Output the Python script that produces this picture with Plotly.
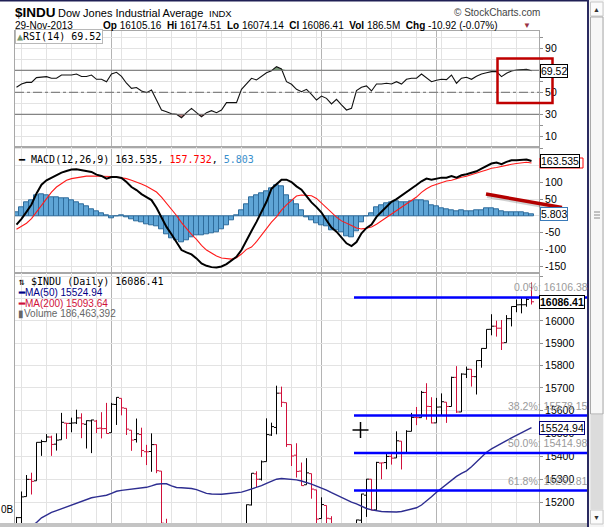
import math
import datetime as _dt
import plotly.graph_objects as go

W, H = 604, 527

# ---------------- data ----------------
dates = [
 "2013-07-05","2013-07-08","2013-07-09","2013-07-10","2013-07-11","2013-07-12","2013-07-15","2013-07-16","2013-07-17","2013-07-18",
 "2013-07-19","2013-07-22","2013-07-23","2013-07-24","2013-07-25","2013-07-26","2013-07-29","2013-07-30","2013-07-31",
 "2013-08-01","2013-08-02","2013-08-05","2013-08-06","2013-08-07","2013-08-08","2013-08-09","2013-08-12","2013-08-13","2013-08-14",
 "2013-08-15","2013-08-16","2013-08-19","2013-08-20","2013-08-21","2013-08-22","2013-08-23","2013-08-26","2013-08-27","2013-08-28",
 "2013-08-29","2013-08-30",
 "2013-09-03","2013-09-04","2013-09-05","2013-09-06","2013-09-09","2013-09-10","2013-09-11","2013-09-12","2013-09-13","2013-09-16",
 "2013-09-17","2013-09-18","2013-09-19","2013-09-20","2013-09-23","2013-09-24","2013-09-25","2013-09-26","2013-09-27","2013-09-30",
 "2013-10-01","2013-10-02","2013-10-03","2013-10-04","2013-10-07","2013-10-08","2013-10-09","2013-10-10","2013-10-11","2013-10-14",
 "2013-10-15","2013-10-16","2013-10-17","2013-10-18","2013-10-21","2013-10-22","2013-10-23","2013-10-24","2013-10-25","2013-10-28",
 "2013-10-29","2013-10-30","2013-10-31",
 "2013-11-01","2013-11-04","2013-11-05","2013-11-06","2013-11-07","2013-11-08","2013-11-11","2013-11-12","2013-11-13","2013-11-14",
 "2013-11-15","2013-11-18","2013-11-19","2013-11-20","2013-11-21","2013-11-22","2013-11-25","2013-11-26","2013-11-27","2013-11-29",
]

prev_close_before_first = 14988.55

opens = [14994,15136,15226,15300,15294,15461,15464,15484,15453,15472,15545,15544,15546,15568,15540,15555,15554,15523,15521,
 15503,15627,15654,15610,15514,15473,15495,15420,15421,15451,15336,15111,15081,15011,15003,14898,14964,15011,14943,14776,14824,14842,
 14810,14834,14930,14938,14923,15063,15190,15324,15301,15377,15493,15526,15677,15635,15451,15405,15336,15277,15325,15255,
 15132,15188,15131,14994,15070,14935,14776,14804,15125,15232,15301,15169,15371,15373,15400,15393,15466,15413,15509,15570,15569,15680,15618,
 15546,15616,15637,15618,15747,15594,15761,15783,15750,15822,15876,15962,15976,15967,15902,16010,16065,16073,16073,16105.16]

highs = [15139,15248,15319,15329,15461,15472,15497,15490,15500,15590,15545,15569,15604,15588,15557,15560,15559,15593,15634,
 15634,15659,15654,15610,15514,15565,15525,15450,15500,15452,15336,15131,15111,15078,15058,14981,15025,15052,14943,14870,14934,14880,
 14956,14944,14967,15009,15068,15192,15327,15335,15382,15566,15547,15710,15706,15635,15451,15457,15373,15392,15325,15255,
 15223,15188,15142,15073,15070,14967,14860,15127,15238,15302,15301,15376,15372,15413,15418,15509,15466,15514,15590,15616,15687,15721,15659,
 15656,15676,15637,15750,15797,15765,15795,15783,15822,15877,15962,16030,16001,16004,16026,16065,16097,16105,16107,16174.51]

lows = [14994,15105,15226,15235,15294,15402,15464,15402,15425,15472,15476,15505,15541,15479,15434,15414,15501,15478,15499,
 15503,15537,15579,15493,15424,15460,15397,15362,15333,15327,15090,15076,15005,14992,14890,14898,14963,14943,14760,14760,14818,14777,
 14781,14797,14925,14808,14923,15063,15188,15267,15295,15377,15489,15496,15616,15441,15358,15308,15273,15277,15217,15054,
 15132,15042,14951,14972,14926,14774,14719,14804,15064,15139,15168,15169,15301,15344,15364,15393,15343,15413,15509,15536,15569,15560,15544,
 15546,15580,15546,15618,15590,15594,15744,15706,15671,15790,15876,15935,15929,15869,15902,15975,16039,16034,16064,16074.14]

closes = [15135.84,15224.69,15300.34,15291.66,15460.92,15464.30,15484.26,15451.85,15470.52,15548.54,15543.74,15545.55,15567.74,15542.24,15555.61,15558.83,15521.97,15520.59,15499.54,
 15628.02,15658.36,15612.13,15518.74,15470.67,15498.32,15425.51,15419.68,15451.01,15337.66,15112.19,15081.47,15010.74,15002.99,14897.55,14963.74,15010.51,14946.46,14776.13,14824.51,14840.95,14810.31,
 14833.96,14930.87,14937.48,14922.50,15063.12,15191.06,15326.60,15300.64,15376.06,15494.78,15529.73,15676.94,15636.55,15451.09,15401.38,15334.59,15273.26,15328.30,15258.24,15129.67,
 15191.70,15133.14,14996.48,15072.58,14936.24,14776.53,14802.98,15126.07,15237.11,15301.26,15168.01,15373.83,15371.65,15399.65,15392.20,15467.66,15413.33,15509.21,15570.28,15568.93,15680.35,15618.76,15545.75,
 15615.55,15639.12,15618.22,15746.88,15593.98,15761.78,15783.10,15750.67,15821.63,15876.22,15961.70,15976.02,15967.03,15900.82,16009.99,16064.77,16072.54,16072.80,16097.33,16086.41]

ma50 = [15070,15078,15086,15100,15115,15135,15148,15158,15166,15174,15182,15190,15200,15208,15216,15221,15225,15228,15232,15240,
 15249,15253,15255,15257,15259,15262,15266,15272,15279,15281,15281,15272,15265,15264,15264,15261,15256,15248,15240,15237,
 15236,15236,15238,15240,15242,15245,15252,15258,15264,15273,15283,15293,15301,15304,15303,15300,15298,15293,15287,15280,
 15271,15264,15254,15243,15232,15221,15211,15202,15195,15185,15175,15169,15165,15162,15161,15160,15160,15162,15167,15172,
 15178,15190,15206,15225,15245,15263,15280,15297,15313,15326,15337,15355,15375,15395,15418,15432,15445,15457,15468,15480,
 15492,15503,15514,15524.94]

rsi = [54.5,57.5,59,59,63.3,64,64.2,62.7,62.8,65.7,
 65.7,65.7,66.6,64.4,64.4,65.7,61.8,61.8,59.6,66.6,
 68.2,64.4,58.2,53.6,54.3,51.2,49.7,52.1,43,33.9,
 32.4,30.5,30,26.9,31.5,35.4,31.5,27.8,31.5,33.3,
 31.5,33.9,40.6,40.6,40.6,52.7,58.2,62.7,61.2,64.2,
 67.8,69.6,73.3,71.2,59.6,57.3,52.7,50.5,52.7,48.2,
 43,46.6,44.5,39.4,43.6,38.5,33.9,35.4,51.5,54.5,
 55.8,51.2,57.5,57.5,58.2,57.5,59.6,57.5,61.8,62.8,
 62.8,66.6,62.8,59.6,61,61.8,61.5,65.7,58.2,62.8,
 63.7,61.8,64.5,66.6,67.8,68.8,68.8,64.2,67.3,69.3,
 70.3,70.9,70.9,69.52]

macd = [-26,-9,12,34,67,93,106,114,123,129,
 134,138,139,136,135,131,123,119,111,116,
 116,113,101,86,77,65,56,47,24,-6,
 -33,-55,-77,-102,-109,-115,-127,-142,-149,-153,
 -154,-151,-144,-132,-122,-102,-72,-45,-18,12,
 42,81,96,108,108,101,88,78,59,40,
 26,10,-13,-35,-47,-64,-82,-90,-78,-52,
 -36,-26,-3,12,27,42,50,60,72,82,
 92,103,111,108,111,114,114,119,114,121,
 124,129,133,141,149,156,159,154,161,166,
 166,168,168,163.535]

signal = [-40,-32,-22,-8,12,32,52,71,86,96,
 106,111,114,117,118.5,119,119,118,118,117.5,
 116,114.5,111,106,101,95,88,80,71,56,
 38,21,1,-20,-38,-55,-70,-88,-102,-112,
 -120,-126,-128,-129,-125,-114,-100,-93,-77,-57,
 -38,-19,-3,17,33,47,59,62,62,60,
 52,38,22,8,-4,-15,-23,-29,-36,-39,
 -37,-33,-25,-15,-5,4,14,24,34,45,
 56,70,81,89,94,99,104,106,111,115,
 118,122,126,132,137,142,144,148,152,154,
 156,158,160,157.732]

hist = [12,27,40,47,60,64,62,54,54,52,
 52,45,40,34,29,20,14,7,1,-6,
 -1,2,-4,-10,-16,-20,-25,-28,-31,-40,
 -55,-67,-74,-79,-72,-65,-57,-58,-55,-52,
 -49,-40,-28,-12,2,17,34,54,60,67,
 73,81,91,88,62,47,34,17,-3,-13,
 -23,-27,-30,-43,-43,-49,-60,-63,-46,-18,
 -1,7,25,32,37,40,42,41,41,44,
 47,47,44,32,29,24,19,17,15,16,
 15,15,17,17,22,24,19,14,12,12,
 12,11,9,5.803]

fib_levels = [16106.38, 15578.15, 15414.98, 15251.81]
fib_labels = ["0.0%", "38.2%", "50.0%", "61.8%"]

rsi_ticks = [10, 20, 30, 40, 50, 60, 70, 80, 90, 100]
rsi_ticktext = ["10", "", "30", "", "50", "", "", "", "90", ""]
macd_ticks = [-150, -100, -50, 0, 50, 100, 150, 200]
macd_ticktext = ["-150", "-100", "-50", "", "50", "100", "", ""]
price_ticks = [15200, 15300, 15400, 15500, 15600, 15700, 15800, 15900, 16000, 16100, 16200]
price_ticktext = ["15200", "15300", "15400", "15500", "15600", "15700", "15800", "15900", "16000", "", ""]

# ---------------- helpers ----------------
SANS = "Liberation Sans, Arial, sans-serif"
MONO = "DejaVu Sans Mono, monospace"

def PX(v):
    return v / W

def PY(v):
    return 1 - v / H

x = list(range(len(dates)))
_d = [_dt.date.fromisoformat(s) for s in dates]
week_idx = [i for i in range(1, len(_d)) if _d[i].weekday() < _d[i-1].weekday()]
month_idx = [i for i in range(1, len(_d)) if _d[i].month != _d[i-1].month]

LEFT, RIGHT = 15, 539
XD = [PX(LEFT), PX(RIGHT)]
XR = [-0.3, 104.5]

RSI_DOM = [PY(147.3), PY(31)]
MACD_DOM = [PY(273), PY(147.3)]
PRICE_DOM = [PY(523), PY(273)]

fig = go.Figure()

# ---------------- RSI ----------------
fig.add_trace(go.Scatter(x=x, y=[70]*len(x), mode="lines", line=dict(width=0), xaxis="x", yaxis="y", hoverinfo="skip"))
fig.add_trace(go.Scatter(x=x, y=[max(v, 70) for v in rsi], mode="lines", line=dict(width=0), fill="tonexty",
                         fillcolor="#7da07d", xaxis="x", yaxis="y", hoverinfo="skip"))
fig.add_trace(go.Scatter(x=x, y=[30]*len(x), mode="lines", line=dict(width=0), xaxis="x", yaxis="y", hoverinfo="skip"))
fig.add_trace(go.Scatter(x=x, y=[min(v, 30) for v in rsi], mode="lines", line=dict(width=0), fill="tonexty",
                         fillcolor="#bf8080", xaxis="x", yaxis="y", hoverinfo="skip"))
fig.add_trace(go.Scatter(x=x, y=rsi, mode="lines", line=dict(color="#111111", width=1.1), xaxis="x", yaxis="y"))

# ---------------- MACD ----------------
fig.add_trace(go.Bar(x=x, y=hist, width=1.0, marker=dict(color="#5fa5d6", line=dict(color="#2e6c9c", width=1)),
                     xaxis="x2", yaxis="y2"))
fig.add_trace(go.Scatter(x=x, y=signal, mode="lines", line=dict(color="#ff1a1a", width=1.1), xaxis="x2", yaxis="y2"))
fig.add_trace(go.Scatter(x=x, y=macd, mode="lines", line=dict(color="#000000", width=2), xaxis="x2", yaxis="y2"))

# ---------------- Price ----------------
up_i, dn_i = [], []
for i, c in enumerate(closes):
    pc = prev_close_before_first if i == 0 else closes[i-1]
    (up_i if c >= pc else dn_i).append(i)

for idx, col in ((up_i, "#000000"), (dn_i, "#d0103a")):
    fig.add_trace(go.Ohlc(x=idx, open=[opens[i] for i in idx], high=[highs[i] for i in idx],
                          low=[lows[i] for i in idx], close=[closes[i] for i in idx],
                          increasing=dict(line=dict(color=col, width=1)),
                          decreasing=dict(line=dict(color=col, width=1)),
                          tickwidth=0.5, xaxis="x3", yaxis="y3", hoverinfo="skip"))

fig.add_trace(go.Scatter(x=x, y=ma50, mode="lines", line=dict(color="#2d2d90", width=1.4), xaxis="x3", yaxis="y3"))

# ---------------- axes ----------------
xcommon = dict(domain=XD, range=XR, showticklabels=False, tickvals=week_idx, ticks="",
               showgrid=True, gridcolor="#e3e3e3", gridwidth=1, zeroline=False,
               showline=True, mirror=True, linecolor="#a8a8a8", linewidth=1, fixedrange=True)
ycommon = dict(side="right", ticks="outside", ticklen=3, tickcolor="#909090",
               tickfont=dict(family=SANS, size=10.5, color="#000000"),
               showgrid=True, gridcolor="#e3e3e3", gridwidth=1, zeroline=False,
               showline=True, mirror=True, linecolor="#a8a8a8", linewidth=1, fixedrange=True)

fig.update_layout(
    xaxis=dict(**xcommon, anchor="y"),
    xaxis2=dict(**xcommon, anchor="y2"),
    xaxis3=dict(**xcommon, anchor="y3", rangeslider=dict(visible=False)),
    yaxis=dict(**ycommon, domain=RSI_DOM, range=[0, 105.7], tickvals=rsi_ticks, ticktext=rsi_ticktext, anchor="x"),
    yaxis2=dict(**ycommon, domain=MACD_DOM, range=[-170.5, 204.5], tickvals=macd_ticks, ticktext=macd_ticktext, anchor="x2"),
    yaxis3=dict(**ycommon, domain=PRICE_DOM, type="log",
                range=[math.log10(15113), math.log10(16217.6)],
                tickvals=price_ticks, ticktext=price_ticktext, anchor="x3"),
)

shapes = []
for xr, yr in (("x", "y"), ("x2", "y2"), ("x3", "y3")):
    for m in month_idx:
        shapes.append(dict(type="line", xref=xr, yref=yr + " domain", x0=m, x1=m, y0=0, y1=1,
                           line=dict(color="#b4b4b4", width=1), layer="below"))
for lv, dash in ((70, "solid"), (30, "solid"), (50, "dashdot")):
    shapes.append(dict(type="line", xref="x domain", yref="y", x0=0, x1=1, y0=lv, y1=lv,
                       line=dict(color="#6a6a6a", width=1, dash=dash), layer="above"))
for lv in fib_levels:
    shapes.append(dict(type="line", xref="paper", yref="y3", x0=PX(354), x1=PX(588), y0=lv, y1=lv,
                       line=dict(color="#0000ff", width=2.5)))
# red highlight box (RSI) and red arrow (MACD)
shapes.append(dict(type="rect", xref="paper", yref="paper", x0=PX(497.5), x1=PX(552.5), y0=PY(103), y1=PY(58.5),
                   line=dict(color="#c00000", width=2.5)))
shapes.append(dict(type="line", xref="paper", yref="paper", x0=PX(487), y0=PY(196.5), x1=PX(563), y1=PY(210),
                   line=dict(color="rgba(0,0,0,0.18)", width=3)))
shapes.append(dict(type="line", xref="paper", yref="paper", x0=PX(486), y0=PY(194), x1=PX(562), y1=PY(207.5),
                   line=dict(color="#b40000", width=3.5)))
# cross cursor
shapes.append(dict(type="line", xref="paper", yref="paper", x0=PX(352.5), x1=PX(368.5), y0=PY(430), y1=PY(430),
                   line=dict(color="#000000", width=1.5)))
shapes.append(dict(type="line", xref="paper", yref="paper", x0=PX(360.5), x1=PX(360.5), y0=PY(422), y1=PY(438),
                   line=dict(color="#000000", width=1.5)))
# signal value box (hidden behind MACD value box; only its red edge shows)
shapes.append(dict(type="rect", xref="paper", yref="paper", x0=PX(540), x1=PX(583), y0=PY(168), y1=PY(158),
                   line=dict(color="#ff0000", width=1), fillcolor="#ffffff"))

# window chrome: top line, scrollbar, bottom band
shapes.append(dict(type="rect", xref="paper", yref="paper", x0=0, x1=1, y0=PY(1.5), y1=1,
                   line=dict(width=0), fillcolor="#1f1f55"))
shapes.append(dict(type="rect", xref="paper", yref="paper", x0=PX(589), x1=1, y0=0, y1=1,
                   line=dict(width=0), fillcolor="#f3f3f3"))
shapes.append(dict(type="rect", xref="paper", yref="paper", x0=PX(590.5), x1=PX(603), y0=PY(16), y1=PY(2),
                   line=dict(color="#c8c8c8", width=1), fillcolor="#fbfbfb"))
shapes.append(dict(type="rect", xref="paper", yref="paper", x0=PX(590.5), x1=PX(603), y0=PY(414), y1=PY(17),
                   line=dict(color="#a9a9a9", width=1), fillcolor="#f7f7f7"))
for gy in (212, 215, 218):
    shapes.append(dict(type="line", xref="paper", yref="paper", x0=PX(594), x1=PX(600), y0=PY(gy), y1=PY(gy),
                       line=dict(color="#8a8a8a", width=1)))
shapes.append(dict(type="rect", xref="paper", yref="paper", x0=PX(590.5), x1=PX(603), y0=PY(509), y1=PY(415),
                   line=dict(width=0), fillcolor="#dcdcdc"))
shapes.append(dict(type="rect", xref="paper", yref="paper", x0=PX(590.5), x1=PX(603), y0=PY(524), y1=PY(510),
                   line=dict(color="#c8c8c8", width=1), fillcolor="#fbfbfb"))
shapes.append(dict(type="line", xref="paper", yref="paper", x0=PX(588), x1=PX(588), y0=0, y1=1,
                   line=dict(color="#2a2a60", width=2)))
shapes.append(dict(type="rect", xref="paper", yref="paper", x0=0, x1=PX(587), y0=0, y1=PY(523),
                   line=dict(width=0), fillcolor="#c4c4c4"))

# ---------------- annotations ----------------
ann = []
def A(text, xp, yp, size=10, color="#000000", family=SANS, xanchor="left", yanchor="middle",
      bg=None, border=None, bw=1, pad=1, xref="paper", yref="paper", yshift=0):
    d = dict(text=text, x=xp, y=yp, xref=xref, yref=yref, xanchor=xanchor, yanchor=yanchor, showarrow=False,
             font=dict(family=family, size=size, color=color), borderpad=pad, yshift=yshift)
    if bg:
        d["bgcolor"] = bg
    if border:
        d["bordercolor"] = border
        d["borderwidth"] = bw
    ann.append(d)

L10 = math.log10

# header
A("<b>$INDU</b>", PX(13), PY(12.5), size=13.5)
A("Dow Jones Industrial Average", PX(56), PY(13), size=11)
A("INDX", PX(207), PY(13.5), size=9.5)
A("© StockCharts.com", PX(542), PY(13), size=10, color="#444444", xanchor="right")
A("29-Nov-2013", PX(13), PY(25), size=10)
A("<b>Op</b> 16105.16  <b>Hi</b> 16174.51  <b>Lo</b> 16074.14  <b>Cl</b> 16086.41  <b>Vol</b> 186.5M  <b>Chg</b> -10.92 (-0.07%)",
  PX(101), PY(25), size=10)
A("▼", PX(521), PY(25.5), size=8, color="#993344")

# panel labels
A("<span style='color:#6e936e'>▲</span>RSI(14) 69.52", PX(15), PY(37), size=10, family=MONO,
  bg="#ffffff", border="#b8b8b8", pad=1)
A("<b>━</b> MACD(12,26,9) 163.535, <span style='color:#ff0000'>157.732</span>, <span style='color:#3a8fcc'>5.803</span>",
  PX(16), PY(159), size=10, family=MONO)
A("⇅ $INDU (Daily) 16086.41", PX(16), PY(281.5), size=10, family=MONO)
A("<b>━</b>MA(50) 15524.94", PX(16), PY(292.5), size=10, color="#000088")
A("<b>━</b>MA(200) 15093.64", PX(16), PY(303), size=10, color="#d0103a")
A("▮Volume 186,463,392", PX(16), PY(313.5), size=10, color="#666666")
A("0B", PX(0), PY(509), size=10, xanchor="left", pad=0)

# fib labels (text right-aligned at the scrollbar edge)
for lv, lb in zip(fib_levels, fib_labels):
    A(f"{lb}: {lv:.2f}", PX(589), L10(lv), size=10.5, color="#9a9a9a", xanchor="right", yanchor="middle",
      yref="y3", yshift=10, pad=0)

# right value boxes
A("163.535", PX(540), macd[-1], size=10.5, color="#000000", bg="#ffffff", border="#000000", yref="y2", pad=0)
A("5.803", PX(540), hist[-1], size=10.5, color="#000000", bg="#ffffff", border="#3a7ab8", yref="y2", pad=0)
A("69.52", PX(540), rsi[-1], size=10.5, color="#000000", bg="#ffffff", border="#000000", yref="y", pad=0)
A("<b>16086.41</b>", PX(539), L10(closes[-1]), size=10.5, color="#000000", bg="#ffffff", border="#000000",
  yref="y3", pad=0)
A("15524.94", PX(539), L10(ma50[-1]), size=10.5, color="#000000", bg="#ffffff", border="#000080",
  yref="y3", pad=0)

# scrollbar arrows
A("▲", PX(596.5), PY(9), size=7, color="#333333", xanchor="center")
A("▼", PX(596.5), PY(517), size=7, color="#333333", xanchor="center")

fig.update_layout(
    width=W, height=H, margin=dict(l=0, r=0, t=0, b=0),
    paper_bgcolor="#ffffff", plot_bgcolor="#ffffff",
    showlegend=False, hovermode=False, bargap=0,
    shapes=shapes, annotations=ann,
)

fig.write_html("out.html")
